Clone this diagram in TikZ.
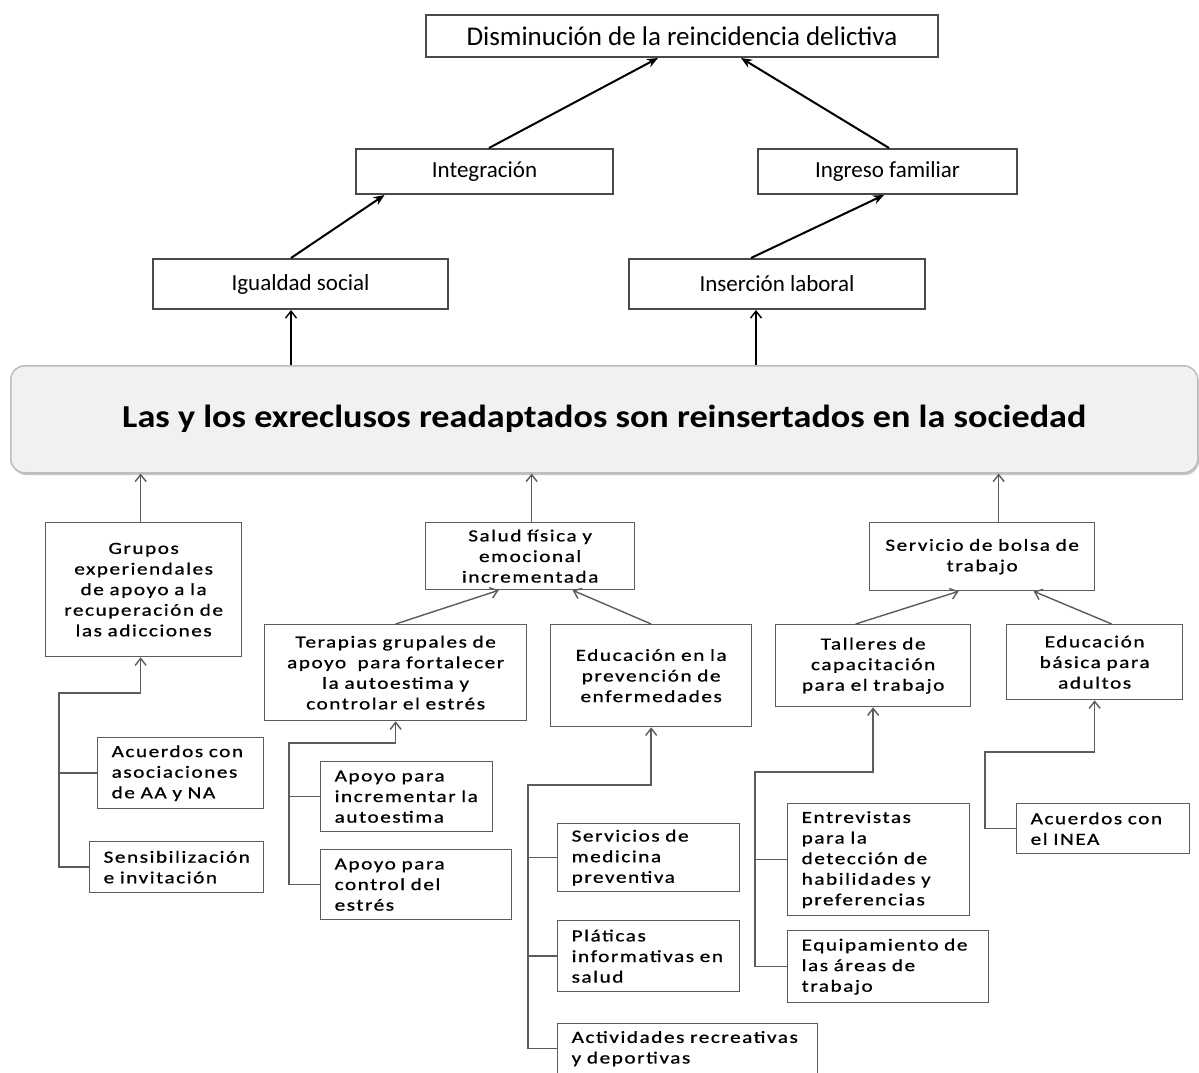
\documentclass[tikz,border=0pt]{standalone}
\usepackage{fontspec}
\setmainfont{Carlito}
\newfontfamily\lowfont[FakeStretch=1.25,LetterSpace=9,FakeBold=0.8]{Carlito}
\newfontfamily\bannerfont[FakeStretch=1.13]{Carlito}
\usetikzlibrary{arrows.meta,calc}
\definecolor{boxline}{HTML}{4A4A4A}
\definecolor{lowline}{HTML}{5C5C5C}
\definecolor{bannerfill}{HTML}{F1F1F1}
\definecolor{bannerline}{HTML}{BDBDBD}
\begin{document}
\begin{tikzpicture}[x=1pt,y=-1pt,
 topbox/.style={draw=boxline, line width=2pt, fill=white, anchor=north west, inner sep=0pt, align=center, font=\fontsize{23}{27}\selectfont},
 lowbox/.style={draw=lowline, line width=1.3pt, fill=white, anchor=north west, inner ysep=0pt, inner xsep=6pt, align=center, font=\lowfont\fontsize{17}{20.6}\selectfont},
 leafbox/.style={lowbox, inner xsep=14pt, align=left},
 toparrow/.style={draw=black, line width=2pt, -{Stealth[length=11pt,width=9pt]}},
 uparrow/.style={draw=black, line width=1.4pt, -{Straight Barb[length=7pt,width=11pt]}},
 lowarrow/.style={draw=lowline, line width=1.4pt, -{Straight Barb[length=7pt,width=11pt]}},
 lowconn/.style={draw=lowline, line width=1.4pt},
]
\useasboundingbox[fill=white] (0,0) rectangle (1199,1073);

% upper levels
\node[topbox, minimum width=512pt, minimum height=42pt, font=\fontsize{27}{30}\selectfont] (top) at (425,14) {Disminución de la reincidencia delictiva};
\node[topbox, minimum width=257pt, minimum height=45pt] (integ) at (355,148) {Integración};
\node[topbox, minimum width=259pt, minimum height=45pt] (ingreso) at (757,148) {Ingreso familiar};
\node[topbox, minimum width=295pt, minimum height=50pt] (igual) at (152,258) {Igualdad social};
\node[topbox, minimum width=296pt, minimum height=50pt] (insercion) at (628,258) {Inserción laboral};

% banner
\fill[gray!45, rounded corners=14pt] (12,369) rectangle (1199,475);
\node[draw=bannerline, fill=bannerfill, rounded corners=14pt, line width=1.5pt, minimum width=1187pt, minimum height=107pt, anchor=north west, inner sep=0pt, font=\bannerfont\bfseries\fontsize{32}{36}\selectfont] (banner) at (10,365) {Las y los exreclusos readaptados son reinsertados en la sociedad};

% second lower level
\node[lowbox, text width=184pt, minimum height=134pt] (grupos) at (45,522) {Grupos\\experiendales\\de~apoyo~a~la\\recuperación~de\\las~adicciones};
\node[lowbox, text width=197pt, minimum height=67pt] (salud) at (425,522) {Salud~física~y\\emocional\\incrementada};
\node[lowbox, text width=213pt, minimum height=68pt] (bolsa) at (869,522) {Servicio~de~bolsa~de\\trabajo};

% third lower level
\node[lowbox, text width=250pt, minimum height=96pt] (terapias) at (264,624) {Terapias~grupales~de\\apoyo~~para~fortalecer\\la~autoestima~y\\controlar~el~estrés};
\node[lowbox, text width=189pt, minimum height=102pt] (eduprev) at (550,624) {Educación~en~la\\prevención~de\\enfermedades};
\node[lowbox, text width=183pt, minimum height=82pt] (talleres) at (775,624) {Talleres~de\\capacitación\\para~el~trabajo};
\node[lowbox, text width=164pt, minimum height=75pt] (edubas) at (1006,624) {Educación\\básica~para\\adultos};

% leaves
\node[leafbox, text width=138pt, minimum height=71pt] (acuerdosAA) at (97,737) {Acuerdos~con\\asociaciones\\de~AA~y~NA};
\node[leafbox, text width=146pt, minimum height=51pt] (sensib) at (89,841) {Sensibilización\\e~invitación};
\node[leafbox, text width=144pt, minimum height=70pt] (apoyoInc) at (320,761) {Apoyo~para\\incrementar~la\\autoestima};
\node[leafbox, text width=163pt, minimum height=70pt] (apoyoCtrl) at (320,849) {Apoyo~para\\control~del\\estrés};
\node[leafbox, text width=154pt, minimum height=68pt] (servicios) at (557,823) {Servicios~de\\medicina\\preventiva};
\node[leafbox, text width=154pt, minimum height=71pt] (platicas) at (557,920) {Pláticas\\informativas~en\\salud};
\node[leafbox, text width=232pt, minimum height=50pt] (activ) at (557,1023) {Actividades~recreativas\\y~deportivas};
\node[leafbox, text width=154pt, minimum height=112pt] (entrevistas) at (787,803) {Entrevistas\\para~la\\detección~de\\habilidades~y\\preferencias};
\node[leafbox, text width=173pt, minimum height=72pt] (equip) at (787,930) {Equipamiento~de\\las~áreas~de\\trabajo};
\node[leafbox, text width=145pt, minimum height=50pt] (inea) at (1016,803) {Acuerdos~con\\el~INEA};

% top arrows
\draw[toparrow] ([xshift=-9.5pt]igual.north) -- ([xshift=-100pt]integ.south);
\draw[toparrow] ([xshift=4.5pt]integ.north) -- ([xshift=-24pt]top.south);
\draw[toparrow] ([xshift=1.5pt]ingreso.north) -- ([xshift=59pt]top.south);
\draw[toparrow] ([xshift=-26pt]insercion.north) -- ([xshift=-3.5pt]ingreso.south);

% banner to upper
\draw[uparrow] ([xshift=-9.5pt]igual.south |- banner.north) -- ([xshift=-9.5pt]igual.south);
\draw[uparrow] ([xshift=-21pt]insercion.south |- banner.north) -- ([xshift=-21pt]insercion.south);

% lower to banner
\draw[lowarrow] ([xshift=-3pt]grupos.north) -- ([xshift=-3pt]grupos.north |- banner.south);
\draw[lowarrow] ([xshift=1.5pt]salud.north) -- ([xshift=1.5pt]salud.north |- banner.south);
\draw[lowarrow] ([xshift=16.5pt]bolsa.north) -- ([xshift=16.5pt]bolsa.north |- banner.south);

% third to second
\draw[lowarrow] (terapias.north) -- ([xshift=-31.5pt]salud.south);
\draw[lowarrow] (eduprev.north) -- ([xshift=42.5pt]salud.south);
\draw[lowarrow] ([xshift=-17.5pt]talleres.north) -- ([xshift=-23.5pt]bolsa.south);
\draw[lowarrow] ([xshift=17pt]edubas.north) -- ([xshift=51.5pt]bolsa.south);

% elbows
\coordinate (gt) at (59,693);
\draw[lowarrow] (sensib.west) -| (gt) -| ([xshift=-3pt]grupos.south);
\draw[lowconn] (acuerdosAA.west) -- (acuerdosAA.west -| gt);

\coordinate (tt) at (289,743);
\draw[lowarrow] (apoyoCtrl.west) -| (tt) -| (terapias.south);
\draw[lowconn] (apoyoInc.west) -- (apoyoInc.west -| tt);

\coordinate (et) at (528,785);
\draw[lowarrow] (activ.west) -| (et) -| (eduprev.south);
\draw[lowconn] (servicios.west) -- (servicios.west -| et);
\draw[lowconn] (platicas.west) -- (platicas.west -| et);

\coordinate (tlt) at (755,772);
\draw[lowarrow] (equip.west) -| (tlt) -| (talleres.south);
\draw[lowconn] (entrevistas.west) -- (entrevistas.west -| tlt);

\coordinate (ebt) at (985,752);
\draw[lowarrow] (inea.west) -| (ebt) -| (edubas.south);
\end{tikzpicture}
\end{document}
